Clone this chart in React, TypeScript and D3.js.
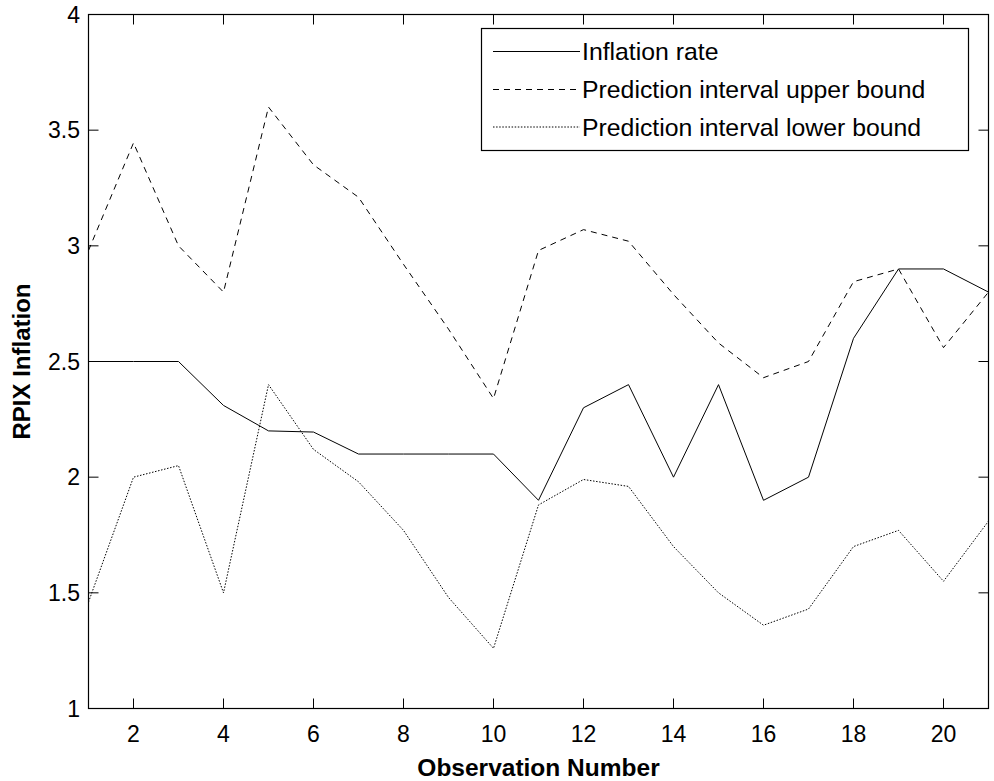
import React from "react";
import * as d3 from "d3";

const observations = d3.range(1, 22);
const inflationRate = [2.5, 2.5, 2.5, 2.31, 2.2, 2.195, 2.1, 2.1, 2.1, 2.1, 1.9, 2.3, 2.4, 2.0, 2.4, 1.9, 2.0, 2.6, 2.9, 2.9, 2.8];
const upperBound = [2.98, 3.445, 3.0, 2.8, 3.6, 3.35, 3.21, 2.92, 2.64, 2.34, 2.98, 3.07, 3.02, 2.79, 2.58, 2.43, 2.5, 2.845, 2.9, 2.56, 2.8];
const lowerBound = [1.46, 2.0, 2.05, 1.5, 2.4, 2.12, 1.98, 1.77, 1.48, 1.26, 1.88, 1.99, 1.96, 1.7, 1.5, 1.36, 1.43, 1.7, 1.77, 1.55, 1.81];
const xTicks = [2, 4, 6, 8, 10, 12, 14, 16, 18, 20];
const yTicks = [1, 1.5, 2, 2.5, 3, 3.5, 4];
const legendLabels = ["Inflation rate", "Prediction interval upper bound", "Prediction interval lower bound"];

const W = 994;
const H = 781;
const M = { left: 88.5, right: 988.5, top: 14.5, bottom: 708.5 };
const FONT = "'Liberation Sans', Arial, Helvetica, sans-serif";

export default function App() {
  const x = d3.scaleLinear().domain([1, 21]).range([M.left, M.right]);
  const y = d3.scaleLinear().domain([1, 4]).range([M.bottom, M.top]);
  const line = d3
    .line<number>()
    .x((_, i) => x(observations[i]))
    .y((d) => y(d));

  const series = [
    { data: inflationRate, dash: undefined as string | undefined },
    { data: upperBound, dash: "6,5" },
    { data: lowerBound, dash: "1.5,1.6" },
  ];

  const tickLen = 10;
  const legend = { x: 481.5, y: 28.5, w: 487, h: 122 };
  const legendRows = [51.5, 89.5, 127];

  return (
    <svg
      width={W}
      height={H}
      style={{ position: "absolute", left: 0, top: 0, background: "#fff" }}
      fontFamily={FONT}
    >
      <rect x={0} y={0} width={W} height={H} fill="#fff" />
      <g fill="none" stroke="#000" strokeWidth={1}>
        {series.map((s, k) => (
          <path key={k} d={line(s.data) || ""} strokeDasharray={s.dash} />
        ))}
      </g>
      <rect
        x={M.left}
        y={M.top}
        width={M.right - M.left}
        height={M.bottom - M.top}
        fill="none"
        stroke="#000"
        strokeWidth={1.2}
      />
      <g stroke="#000" strokeWidth={1}>
        {xTicks.map((t) => (
          <g key={t}>
            <line x1={x(t)} x2={x(t)} y1={M.bottom} y2={M.bottom - tickLen} />
            <line x1={x(t)} x2={x(t)} y1={M.top} y2={M.top + tickLen} />
          </g>
        ))}
        {yTicks.map((t) => (
          <g key={t}>
            <line x1={M.left} x2={M.left + tickLen} y1={y(t)} y2={y(t)} />
            <line x1={M.right} x2={M.right - tickLen} y1={y(t)} y2={y(t)} />
          </g>
        ))}
      </g>
      <g fontSize={23} fill="#000">
        {xTicks.map((t) => (
          <text key={t} x={x(t)} y={742} textAnchor="middle">
            {String(t)}
          </text>
        ))}
        {yTicks.map((t) => (
          <text key={t} x={80} y={y(t)} textAnchor="end" dominantBaseline="central">
            {String(t)}
          </text>
        ))}
      </g>
      <text x={(M.left + M.right) / 2} y={776} textAnchor="middle" fontSize={24.5} fontWeight="bold">
        Observation Number
      </text>
      <text
        transform={`translate(${30},${(M.top + M.bottom) / 2}) rotate(-90)`}
        textAnchor="middle"
        fontSize={24}
        fontWeight="bold"
      >
        RPIX Inflation
      </text>
      <rect x={legend.x} y={legend.y} width={legend.w} height={legend.h} fill="#fff" stroke="#000" strokeWidth={1.2} />
      {legendLabels.map((lab, i) => (
        <g key={lab}>
          <line
            x1={493}
            x2={580}
            y1={legendRows[i]}
            y2={legendRows[i]}
            stroke="#000"
            strokeWidth={1}
            strokeDasharray={series[i].dash}
          />
          <text x={582} y={legendRows[i]} dominantBaseline="central" fontSize={24.8}>
            {lab}
          </text>
        </g>
      ))}
    </svg>
  );
}
